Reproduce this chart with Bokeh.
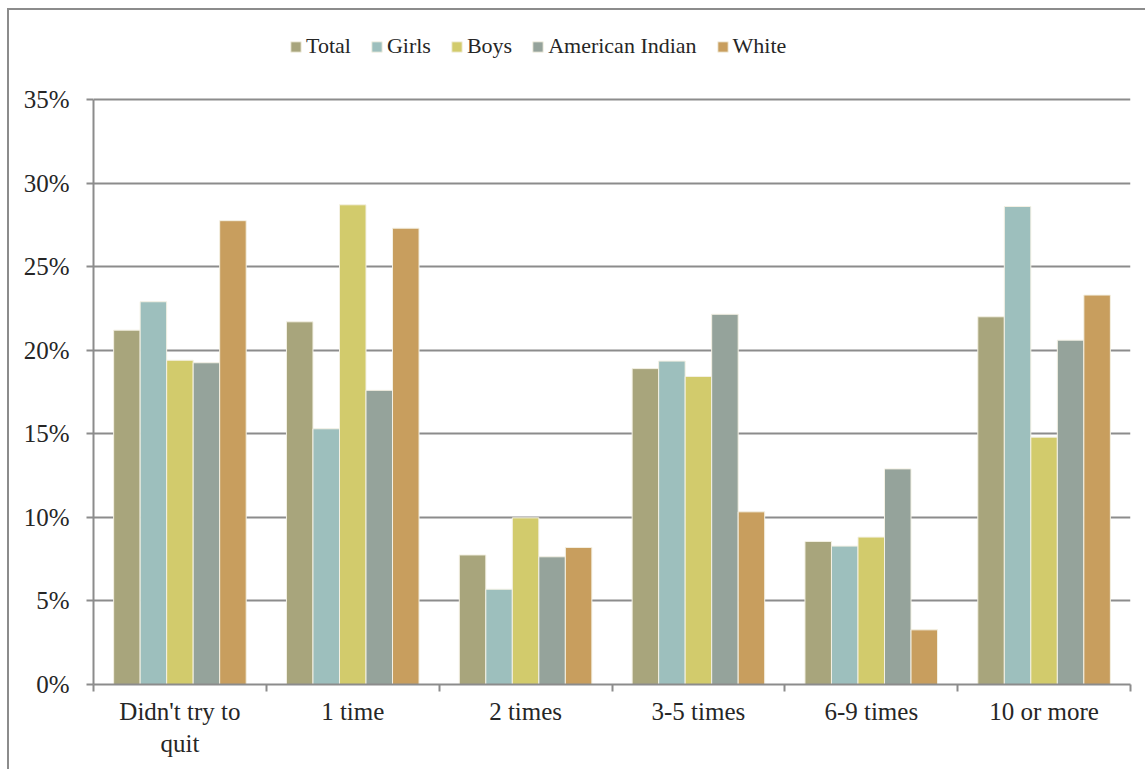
from bokeh.plotting import figure
from bokeh.models import (ColumnDataSource, FixedTicker, NumeralTickFormatter, Range1d,
                          LinearAxis, Legend, LegendItem)
from bokeh.embed import file_html
from bokeh.resources import INLINE

categories = ["Didn't try to\nquit", "1 time", "2 times", "3-5 times", "6-9 times", "10 or more"]
series = ["Total", "Girls", "Boys", "American Indian", "White"]
total = [21.2, 21.7, 7.75, 18.9, 8.56, 22.0]
girls = [22.9, 15.3, 5.7, 19.35, 8.28, 28.6]
boys = [19.4, 28.7, 9.97, 18.43, 8.82, 14.8]
american_indian = [19.25, 17.6, 7.64, 22.15, 12.9, 20.6]
white = [27.75, 27.3, 8.2, 10.33, 3.27, 23.3]
colors = ["#A8A57C", "#9DBFBD", "#D2CB6C", "#95A39B", "#C89E5E"]
y_ticks = [0, 5, 10, 15, 20, 25, 30, 35]

values = [total, girls, boys, american_indian, white]

FONT = "Liberation Serif"
TXT = "#262626"
GRAY = "#8c8c8c"

# layout (pixels): canvas top at 10, 35% line at 99, 0% line at 684
CANVAS_H = 761
FRAME_TOP_PX, Y35_PX, Y0_PX = 10, 99, 684
y_max = 0.35 * (Y0_PX - FRAME_TOP_PX) / (Y0_PX - Y35_PX)

p = figure(width=1138, height=CANVAS_H, output_backend="svg", toolbar_location=None,
           x_range=Range1d(0, len(categories)), y_range=Range1d(0, y_max),
           min_border_left=84, min_border_right=17, min_border_top=0, min_border_bottom=87)
p.styles = {"border-left": "2px solid #8c8c8c", "border-top": "2px solid #8c8c8c",
            "margin-left": "7px", "margin-top": "8px"}
p.outline_line_color = None
p.background_fill_color = "white"
p.border_fill_color = "white"

bw = 0.1534
renderers = []
for j, (name, vals, col) in enumerate(zip(series, values, colors)):
    xs = [i + 0.5 + (j - 2) * bw for i in range(len(categories))]
    src = ColumnDataSource(dict(x=xs, top=[v / 100 for v in vals]))
    r = p.vbar(x="x", top="top", bottom=0, width=bw, source=src, fill_color=col,
               line_color="#f4f1e4", line_width=1)
    renderers.append(r)

# y axis
p.yaxis.ticker = FixedTicker(ticks=[t / 100 for t in y_ticks])
p.yaxis.bounds = (0, y_ticks[-1] / 100)
p.yaxis.formatter = NumeralTickFormatter(format="0%")
p.yaxis.axis_line_color = GRAY
p.yaxis.axis_line_width = 2
p.yaxis.major_tick_line_color = GRAY
p.yaxis.major_tick_line_width = 2
p.yaxis.major_tick_out = 7
p.yaxis.major_tick_in = 0
p.yaxis.minor_tick_line_color = None
p.yaxis.major_label_text_font = FONT
p.yaxis.major_label_text_font_size = "25px"
p.yaxis.major_label_text_color = TXT
p.yaxis.major_label_standoff = 17

p.ygrid.ticker = p.yaxis.ticker
p.ygrid.bounds = (0, y_ticks[-1] / 100)
p.ygrid.grid_line_color = GRAY
p.ygrid.grid_line_width = 2
p.xgrid.grid_line_color = None

# x axis: boundary ticks
p.xaxis.ticker = FixedTicker(ticks=list(range(len(categories) + 1)))
p.xaxis.major_label_text_font_size = "0px"
p.xaxis.major_label_text_color = None
p.xaxis.axis_line_color = GRAY
p.xaxis.axis_line_width = 2
p.xaxis.major_tick_line_color = GRAY
p.xaxis.major_tick_line_width = 2
p.xaxis.major_tick_out = 7
p.xaxis.major_tick_in = 0
p.xaxis.minor_tick_line_color = None
p.xaxis.major_label_standoff = 0

# category labels axis
lab_axis = LinearAxis(ticker=FixedTicker(ticks=[i + 0.5 for i in range(len(categories))]),
                      major_label_overrides={i + 0.5: c for i, c in enumerate(categories)})
lab_axis.axis_line_color = None
lab_axis.major_tick_line_color = None
lab_axis.minor_tick_line_color = None
lab_axis.major_label_text_font = FONT
lab_axis.major_label_text_font_size = "25px"
lab_axis.major_label_text_color = TXT
lab_axis.major_label_standoff = 0
p.add_layout(lab_axis, "below")

legend = Legend(items=[LegendItem(label=s, renderers=[r]) for s, r in zip(series, renderers)],
                orientation="horizontal", location=(196, 625),
                glyph_width=13, glyph_height=13, label_standoff=4, spacing=19,
                label_text_font=FONT, label_text_font_size="22px", label_text_color=TXT,
                border_line_color=None, background_fill_alpha=0, padding=0, margin=0)
p.add_layout(legend, "center")

open("out.html", "w").write(file_html(p, INLINE))
